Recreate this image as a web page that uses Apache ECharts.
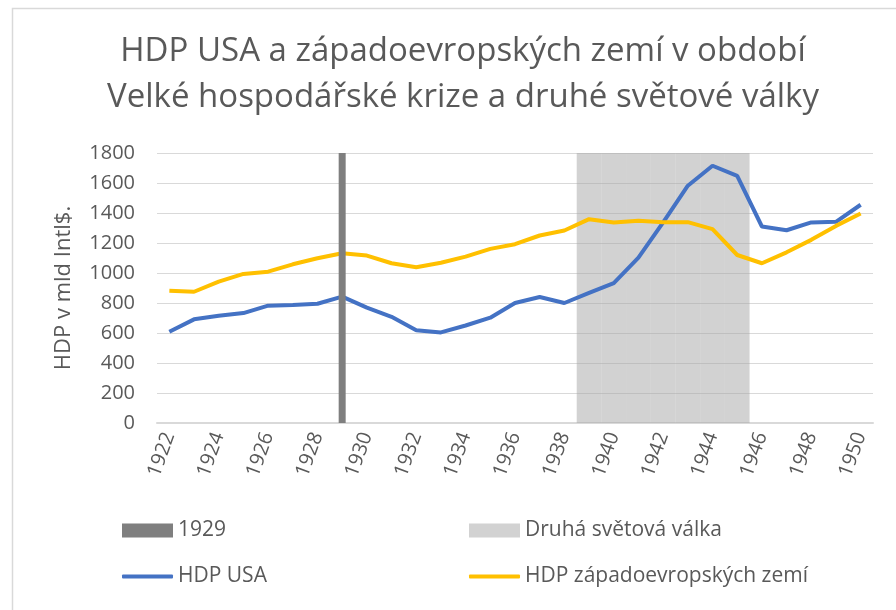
<!DOCTYPE html>
<html>
<head>
<meta charset="utf-8">
<script src="https://cdn.jsdelivr.net/npm/echarts@6/dist/echarts.min.js"></script>
<style>
  html, body { margin: 0; padding: 0; background: #fff; }
  #chart { width: 896px; height: 610px; }
</style>
</head>
<body>
<div id="chart"></div>
<script>
  // data (HDP v mld Intl$)
  var years = ['1922', '1923', '1924', '1925', '1926', '1927', '1928', '1929', '1930', '1931',
    '1932', '1933', '1934', '1935', '1936', '1937', '1938', '1939', '1940', '1941',
    '1942', '1943', '1944', '1945', '1946', '1947', '1948', '1949', '1950']
  var usaGdp = [608, 691, 715, 733, 782, 786, 795, 842, 769, 708,
    619, 604, 650, 702, 800, 840, 800, 867, 933, 1103,
    1337, 1582, 1715, 1648, 1310, 1285, 1337, 1341, 1455]
  var westEuGdp = [882, 875, 942, 994, 1009, 1058, 1098, 1132, 1116, 1065,
    1038, 1068, 1109, 1161, 1192, 1250, 1283, 1359, 1337, 1348,
    1339, 1339, 1292, 1120, 1065, 1138, 1221, 1314, 1397]
  // highlight columns: the crash year and the war years, drawn up to the top of the axis
  var crisisYears = ['1929']
  var warYears = ['1939', '1940', '1941', '1942', '1943', '1944', '1945']
  var yTicks = [0, 200, 400, 600, 800, 1000, 1200, 1400, 1600, 1800]

  var yMax = yTicks[yTicks.length - 1]
  var crisisBar = years.map(function (y) { return crisisYears.indexOf(y) >= 0 ? yMax : null })
  var warBar = years.map(function (y) { return warYears.indexOf(y) >= 0 ? yMax : null })

  var font = 'Open Sans'
  var textColor = '#595959'
  var lineColor = '#d9d9d9'

  var legendItem = function (name, left, top, icon, h) {
    return {
      data: [{ name: name, icon: icon }],
      left: left,
      top: top,
      padding: 0,
      itemWidth: 51,
      itemHeight: h,
      selectedMode: false,
      textStyle: { fontFamily: font, fontSize: 21, color: textColor }
    }
  }

  var chart = echarts.init(document.getElementById('chart'))
  chart.setOption({
    animation: false,
    textStyle: { fontFamily: font },
    graphic: [{ // chart area border (cut off at right and bottom)
      type: 'rect',
      silent: true,
      shape: { x: 12.5, y: 8.5, width: 1000, height: 1000 },
      style: { fill: null, stroke: lineColor, lineWidth: 1.5 }
    }],
    title: {
      text: 'HDP USA a západoevropských zemí v období\nVelké hospodářské krize a druhé světové války',
      left: 463,
      top: 29,
      padding: 0,
      textAlign: 'center',
      textStyle: { fontFamily: font, fontSize: 33, fontWeight: 'normal', color: textColor, lineHeight: 46 }
    },
    legend: [
      legendItem('1929', 122, 520, 'rect', 14),
      legendItem('Druhá světová válka', 469, 520, 'rect', 14),
      legendItem('HDP USA', 122, 566, 'roundRect', 4),
      legendItem('HDP západoevropských zemí', 469, 566, 'roundRect', 4)
    ],
    grid: { left: 157, right: 23, top: 153, bottom: 187 },
    xAxis: [{
      type: 'category',
      data: years,
      boundaryGap: true,
      axisLine: { lineStyle: { color: lineColor, width: 2 } },
      axisTick: { interval: 1, length: 7, lineStyle: { color: lineColor, width: 1.5 } },
      axisLabel: { interval: 1, rotate: 70, margin: 10, fontFamily: font, fontSize: 20, color: textColor }
    }, {
      type: 'category',
      data: years,
      show: false
    }],
    yAxis: {
      type: 'value',
      min: 0,
      max: yMax,
      interval: 200,
      name: 'HDP v mld Intl$.',
      nameLocation: 'middle',
      nameRotate: 90,
      nameGap: 82,
      nameTextStyle: { fontFamily: font, fontSize: 22, color: textColor },
      axisLine: { show: false },
      axisTick: { show: false },
      axisLabel: {
        margin: 22,
        fontFamily: font,
        fontSize: 20,
        color: textColor,
        formatter: function (v) { return String(v) }
      },
      splitLine: { lineStyle: { color: lineColor, width: 1 } }
    },
    series: [
      {
        name: 'Druhá světová válka',
        type: 'bar',
        xAxisIndex: 0,
        data: warBar,
        barWidth: '100%',
        barCategoryGap: '0%',
        itemStyle: { color: 'rgba(165,165,165,0.5)' },
        z: 1
      },
      {
        name: 'HDP USA',
        type: 'line',
        xAxisIndex: 0,
        data: usaGdp,
        symbol: 'none',
        lineStyle: { color: '#4472c4', width: 4 },
        itemStyle: { color: '#4472c4' },
        z: 3
      },
      {
        name: 'HDP západoevropských zemí',
        type: 'line',
        xAxisIndex: 0,
        data: westEuGdp,
        symbol: 'none',
        lineStyle: { color: '#ffc000', width: 4 },
        itemStyle: { color: '#ffc000' },
        z: 3
      },
      {
        name: '1929',
        type: 'bar',
        xAxisIndex: 1,
        data: crisisBar,
        barWidth: 7,
        itemStyle: { color: '#7f7f7f' },
        z: 4
      }
    ]
  })
</script>
</body>
</html>
